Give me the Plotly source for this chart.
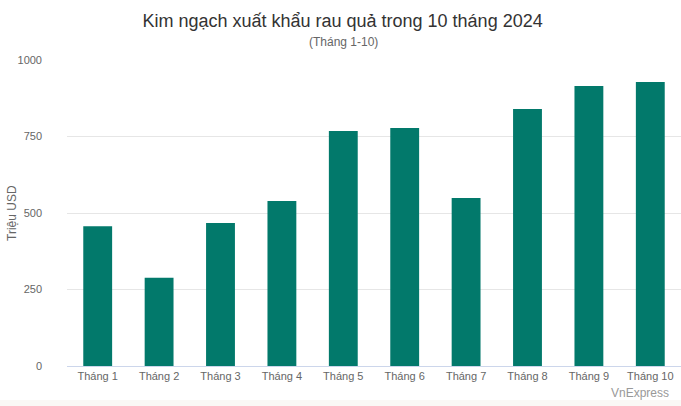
import plotly.graph_objects as go

months = ["Tháng 1", "Tháng 2", "Tháng 3", "Tháng 4", "Tháng 5",
          "Tháng 6", "Tháng 7", "Tháng 8", "Tháng 9", "Tháng 10"]
values = [457, 288, 467, 539, 768, 778, 549, 840, 915, 928]
y_ticks = [0, 250, 500, 750, 1000]

fig = go.Figure()
fig.add_trace(go.Bar(x=months, y=values, marker_color="#02796b",
                     marker_line_width=0, hoverinfo="x+y"))

FONT = "Arial, Liberation Sans, sans-serif"
fig.update_layout(
    width=681, height=406,
    margin=dict(l=67, r=0, t=60, b=40, autoexpand=False),
    paper_bgcolor="#ffffff", plot_bgcolor="#ffffff",
    bargap=0.53,
    showlegend=False,
    font=dict(family=FONT, color="#666666"),
    title=dict(text="Kim ngạch xuất khẩu rau quả trong 10 tháng 2024",
               x=0.503, xref="container", xanchor="center", y=0.95, yref="container",
               yanchor="middle", automargin=False,
               font=dict(size=18, color="#333333", family=FONT)),
    annotations=[
        dict(text="(Tháng 1-10)", xref="paper", yref="paper", x=0.45, y=1.0,
             xanchor="center", yanchor="bottom", yshift=9, showarrow=False,
             font=dict(size=12, color="#666666", family=FONT)),
        dict(text="VnExpress", xref="paper", yref="paper", x=1.0, y=0,
             xanchor="right", yanchor="top", xshift=-10, yshift=-18, showarrow=False,
             font=dict(size=12, color="#999999", family=FONT)),
        dict(text="Triệu USD", xref="paper", yref="paper", x=-0.0896, y=0.5,
             xanchor="center", yanchor="middle", textangle=-90, showarrow=False,
             font=dict(size=12, color="#666666", family=FONT)),
    ],
    shapes=[
        dict(type="rect", xref="paper", yref="paper", x0=-0.2, x1=1.1,
             y0=-0.111, y1=-0.2, fillcolor="#faf8f5", line_width=0, layer="below"),
    ],
    xaxis=dict(showgrid=False, showline=True, linecolor="#ccd6eb", linewidth=1,
               ticks="", tickfont=dict(size=11, color="#666666"),
               automargin=False, fixedrange=True),
    yaxis=dict(range=[0, 1000], tickvals=y_ticks, showgrid=True, gridcolor="#e6e6e6",
               zeroline=False, showline=False, ticks="",
               ticklabelstandoff=24,
               tickfont=dict(size=11, color="#666666"),
               automargin=False, fixedrange=True),
)

fig.write_html("out.html", config={"displayModeBar": False},
               post_script="document.body.style.margin='0';document.body.style.overflow='hidden';")
